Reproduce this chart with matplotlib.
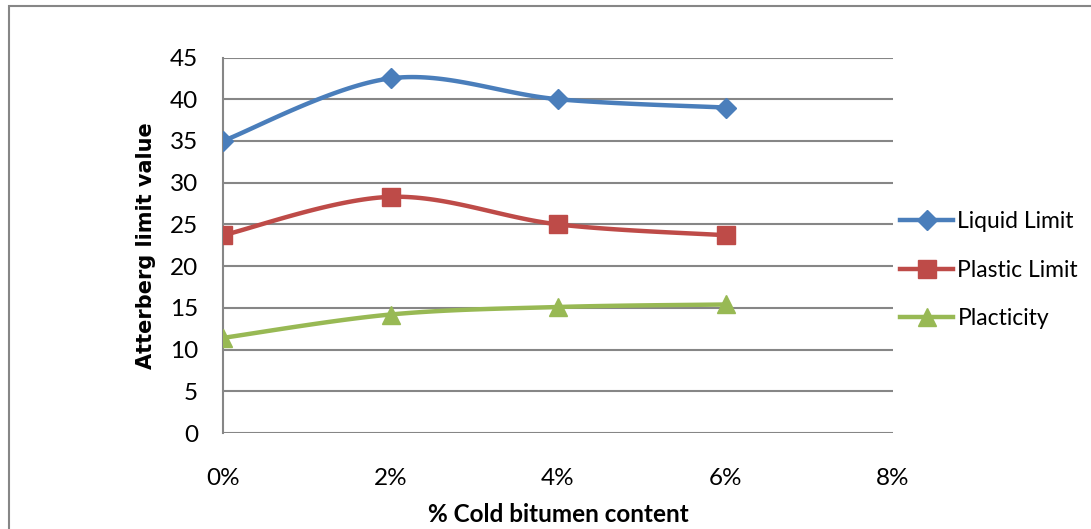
import matplotlib
matplotlib.use('Agg')
import matplotlib.pyplot as plt
import numpy as np
from matplotlib.patches import Rectangle
from matplotlib.ticker import FuncFormatter

plt.rcParams['font.family'] = ['Lato', 'DejaVu Sans']

# data
bitumen = [0, 2, 4, 6]
liquid_limit = [35.0, 42.5, 40.0, 39.0]
plastic_limit = [23.7, 28.3, 25.0, 23.7]
plasticity = [11.4, 14.2, 15.1, 15.4]
series_names = ['Liquid Limit', 'Plastic Limit', 'Placticity']


def smooth(x, y, n=40):
    # excel-like smoothed line: bezier with catmull-rom control points
    x = np.asarray(x, float)
    y = np.asarray(y, float)
    px = np.concatenate([[x[0]], x, [x[-1]]])
    py = np.concatenate([[y[0]], y, [y[-1]]])
    xs, ys = [], []
    t = np.linspace(0, 1, n)
    for i in range(1, len(x)):
        p0 = np.array([px[i], py[i]])
        p3 = np.array([px[i + 1], py[i + 1]])
        c1 = p0 + (np.array([px[i + 1], py[i + 1]]) - np.array([px[i - 1], py[i - 1]])) / 6
        c2 = p3 - (np.array([px[i + 2], py[i + 2]]) - np.array([px[i], py[i]])) / 6
        b = ((1 - t) ** 3)[:, None] * p0 + (3 * (1 - t) ** 2 * t)[:, None] * c1 \
            + (3 * (1 - t) * t ** 2)[:, None] * c2 + (t ** 3)[:, None] * p3
        xs.extend(b[:, 0])
        ys.extend(b[:, 1])
    return xs, ys


fig = plt.figure(figsize=(10.91, 5.29), dpi=100)
ax = fig.add_axes([223 / 1091, 1 - 433 / 529, (893 - 223) / 1091, (433 - 57.5) / 529])

colors = ['#4A7EBB', '#BE4B48', '#98B954']
markers = ['D', 's', '^']
msizes = [10, 13, 13]
handles = []
for vals, c, m, ms, name in zip([liquid_limit, plastic_limit, plasticity], colors, markers, msizes, series_names):
    sx, sy = smooth(bitumen, vals)
    ax.plot(sx, sy, color=c, lw=3.2, solid_capstyle='round', zorder=3)
    ax.plot(bitumen, vals, linestyle='none', marker=m, ms=ms, color=c, zorder=4)
    h, = ax.plot([], [], color=c, lw=3.2, marker=m, ms=ms, label=name)
    handles.append(h)

ax.set_xlim(0, 8)
ax.set_ylim(0, 45)
ax.set_xticks([0, 2, 4, 6, 8])
ax.set_yticks(range(0, 46, 5))
ax.xaxis.set_major_formatter(FuncFormatter(lambda v, p: '%d%%' % v))
ax.grid(axis='y', color='#868686', lw=1.5)
ax.set_axisbelow(True)
for s in ['top', 'right', 'bottom']:
    ax.spines[s].set_visible(False)
ax.spines['left'].set_color('#868686')
ax.spines['left'].set_linewidth(1.5)
ax.tick_params(axis='both', length=0, labelsize=17.5)
ax.tick_params(axis='x', pad=25)
ax.tick_params(axis='y', pad=18)

ax.set_xlabel('% Cold bitumen content', fontsize=17.5, fontweight='bold', labelpad=10)
ax.set_ylabel('Atterberg limit value', fontsize=15, fontweight='bold', labelpad=10,
              family='DejaVu Sans')

leg = ax.legend(handles=handles, loc='upper left', bbox_to_anchor=(0.997, 0.615),
                frameon=False, fontsize=16.5, handlelength=2.3, handletextpad=0.2,
                labelspacing=1.2, borderaxespad=0)

# outer chart border
fig.patches.append(Rectangle((9 / 1091, -0.1), 1.2, 1 - 6 / 529 + 0.1, transform=fig.transFigure,
                             fill=False, edgecolor='#868686', lw=1.5))

fig.savefig('out.png', dpi=100)
